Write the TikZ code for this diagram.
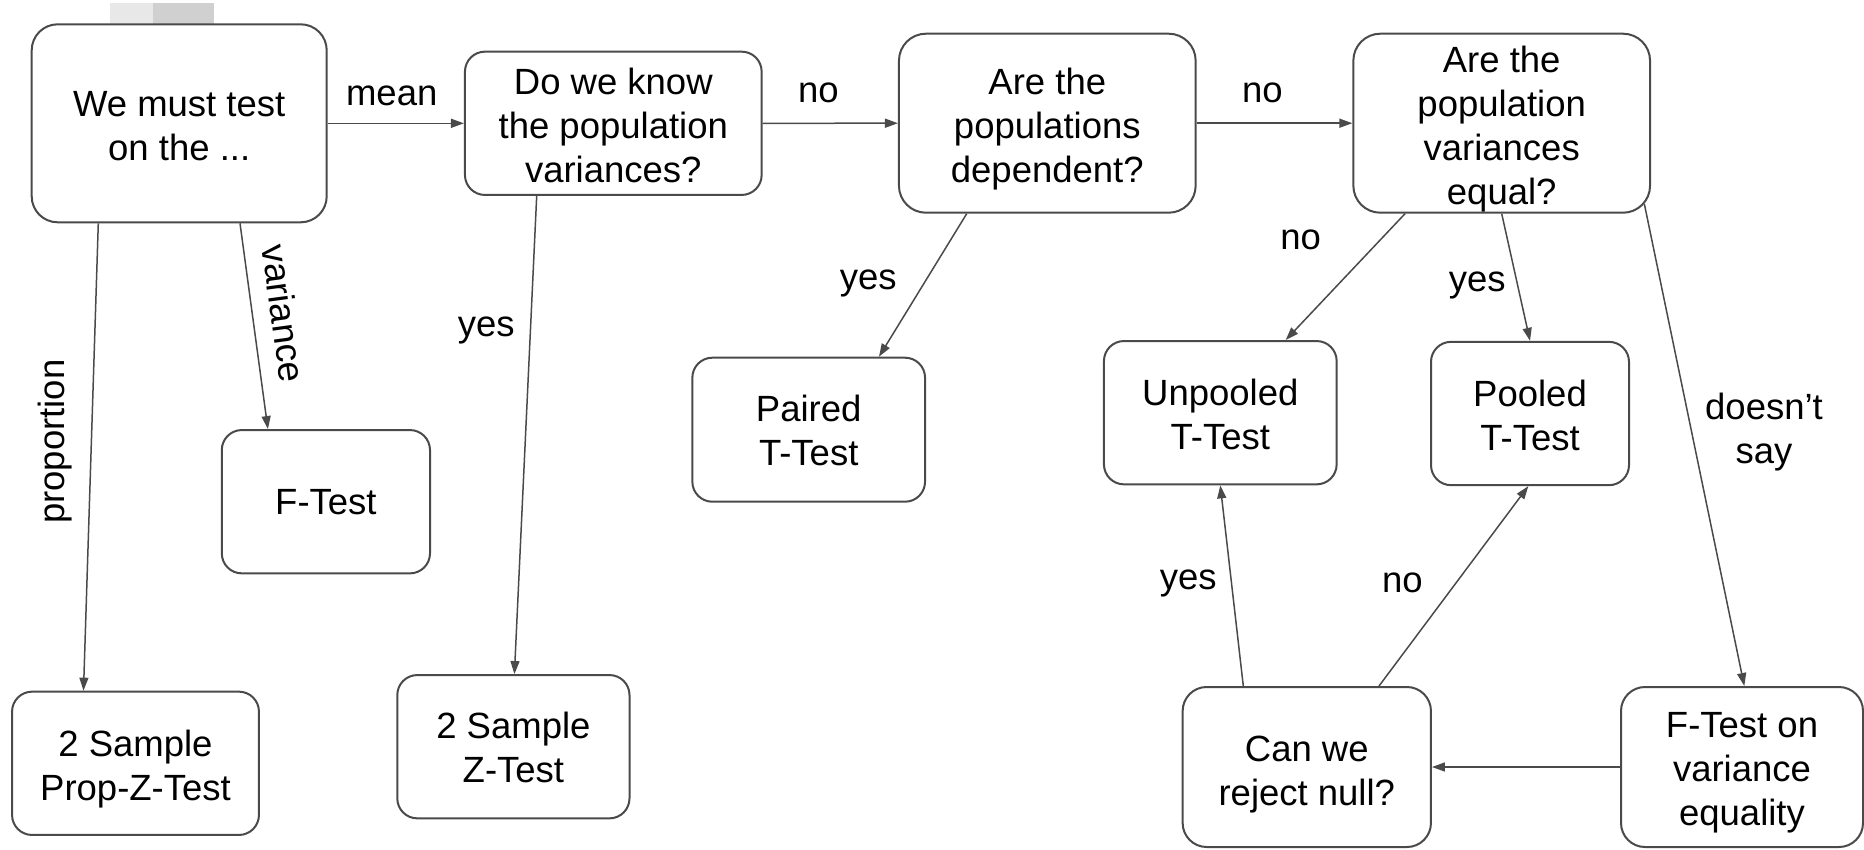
\documentclass[tikz,border=0pt]{standalone}
\usepackage{fontspec}
\setmainfont{Liberation Sans}
\usetikzlibrary{arrows.meta,calc}
\definecolor{lc}{HTML}{4A4A4A}
\definecolor{artA}{HTML}{E8E8E8}
\definecolor{artB}{HTML}{D0D0D0}
\newcommand{\tdown}[1]{\rule{0pt}{#1pt}}
\begin{document}
\begin{tikzpicture}[x=1pt,y=-1pt,
  font=\fontsize{36.5}{44}\selectfont,
  box/.style={draw=lc, line width=2pt, rounded corners=#1, fill=white,
    align=center, inner sep=0pt, text=black},
  conn/.style={draw=lc, line width=1.5pt, -{Triangle[length=13pt,width=9pt]}},
  lab/.style={inner sep=0pt, align=center, text=black}]
\useasboundingbox[fill=white] (0,0) rectangle (1864,849);
% partial image artefact at top
\fill[artA] (110,3) rectangle (153,26);
\fill[artB] (153,3) rectangle (214,26);
% boxes
\node[box=26pt, minimum width=295pt, minimum height=198pt] (must) at (179.2,123.3) {\tdown{31.3}We must test\\on the ...};
\node[box=20pt, minimum width=296.7pt, minimum height=143.3pt] (know) at (613.3,123.3) {\tdown{31.3}Do we know\\the population\\variances?};
\node[box=27pt, minimum width=296.7pt, minimum height=179pt] (dep) at (1047.3,123.2) {\tdown{38.5}Are the\\populations\\dependent?};
\node[box=27pt, minimum width=296.7pt, minimum height=179pt] (eq) at (1501.7,123.2) {\tdown{38.5}Are the\\population\\variances\\equal?};
\node[box=20pt, minimum width=208.2pt, minimum height=143.3pt] (ftest) at (325.9,501.7) {F-Test};
\node[box=20pt, minimum width=246.9pt, minimum height=143.3pt] (prop) at (135.5,763.3) {\tdown{38.5}2 Sample\\Prop-Z-Test};
\node[box=20pt, minimum width=232.2pt, minimum height=143.3pt] (ztest) at (513.4,746.7) {\tdown{28.5}2 Sample\\Z-Test};
\node[box=20pt, minimum width=232.7pt, minimum height=144pt] (paired) at (808.7,429.7) {\tdown{28.5}Paired\\T-Test};
\node[box=20pt, minimum width=232.7pt, minimum height=143.3pt] (unpooled) at (1220.3,412.7) {\tdown{30.5}Unpooled\\T-Test};
\node[box=20pt, minimum width=198pt, minimum height=143.3pt] (pooled) at (1530,413.5) {\tdown{30.5}Pooled\\T-Test};
\node[box=24pt, minimum width=248.3pt, minimum height=160pt] (can) at (1306.8,767) {\tdown{40.5}Can we\\reject null?};
\node[box=24pt, minimum width=242pt, minimum height=160pt] (fvar) at (1742,767) {\tdown{36.5}F-Test on\\variance\\equality};
% connectors
\draw[conn] (must.east) -- (know.west);
\draw[conn] (know.east) -- (dep.west);
\draw[conn] (dep.east) -- (eq.west);
\draw[conn] ([xshift=-80.9pt]must.south) -- ([xshift=-52pt]prop.north);
\draw[conn] ([xshift=60.8pt]must.south) -- ([xshift=-58pt]ftest.north);
\draw[conn] ([xshift=-76.6pt]know.south) -- ([xshift=1pt]ztest.north);
\draw[conn] ([xshift=-80.6pt]dep.south) -- ([xshift=70.3pt]paired.north);
\draw[conn] ([xshift=-96.7pt]eq.south) -- ([xshift=65.4pt]unpooled.north);
\draw[conn] (eq.south) -- (pooled.north);
\draw[conn] ([xshift=-6.7pt,yshift=9.7pt]eq.south east) -- ([xshift=2.3pt]fvar.north);
\draw[conn] (fvar.west) -- (can.east);
\draw[conn] ([xshift=-63.5pt]can.north) -- (unpooled.south);
\draw[conn] ([xshift=72.2pt]can.north) -- ([xshift=-1.7pt]pooled.south);
% labels
\node[lab] (lmean) at (391.7,96) {mean};
\node[lab] (lno1) at (818.3,93) {no};
\node[lab] (lno2) at (1262.3,93) {no};
\node[lab, rotate=90] (lprop) at (55.5,441.7) {proportion};
\node[lab, rotate=-82.3] (lvar) at (284,313.3) {variance};
\node[lab] (lyes1) at (486.2,330.5) {yes};
\node[lab] (lyes2) at (868.3,283.3) {yes};
\node[lab] (lno3) at (1300.7,239.5) {no};
\node[lab] (lyes3) at (1477.3,285) {yes};
\node[lab] (ldoes) at (1764,432) {doesn’t\\say};
\node[lab] (lyes4) at (1188.3,583.3) {yes};
\node[lab] (lno4) at (1402.3,583.3) {no};
\end{tikzpicture}
\end{document}
